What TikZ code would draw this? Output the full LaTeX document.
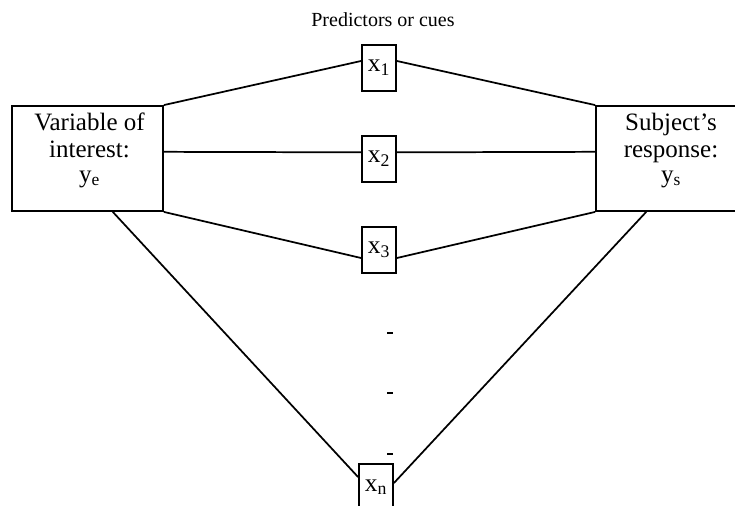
\documentclass[tikz,border=0pt]{standalone}
\usepackage{fontspec}
\setmainfont{Liberation Serif}
\begin{document}
\begin{tikzpicture}[x=0.75pt,y=-0.75pt,
  bigbox/.style={draw,line width=1.4pt,minimum width=151*0.75pt,minimum height=105*0.75pt,
    inner sep=0pt},
  boxtext/.style={anchor=base,inner sep=0pt,font=\fontsize{18.75}{19.2}\selectfont},
  cuebox/.style={draw,line width=1.4pt,minimum width=34*0.75pt,minimum height=46*0.75pt,
    inner sep=0pt,font=\fontsize{19}{20}\selectfont},
  link/.style={line width=1.3pt},
  dot/.style={line width=1.1pt}]
\useasboundingbox (0,0) rectangle (735,506);
\clip (0,0) rectangle (735,506);

% title
\node[font=\fontsize{15}{16}\selectfont,anchor=base] (title) at (383,27) {Predictors or cues};

% outer boxes
\node[bigbox] (L) at (87.5,158.5) {};
\node[bigbox] (R) at (671.5,158.5) {};
\node[boxtext] (L1) at (89.5,131) {Variable of};
\node[boxtext] (L2) at (89.5,157) {interest:};
\node[boxtext] (L3) at (89.5,182) {y\textsubscript{e}};
\node[boxtext] (R1) at (671,131) {Subject’s};
\node[boxtext] (R2) at (671,157) {response:};
\node[boxtext] (R3) at (671,182) {y\textsubscript{s}};

% cue boxes
\node[cuebox] (x1) at (379,68)  {x\textsubscript{1}};
\node[cuebox] (x2) at (379,159) {x\textsubscript{2}};
\node[cuebox] (x3) at (379,250) {x\textsubscript{3}};
\node[cuebox] (xn) at (376,487) {x\textsubscript{n}};

% connectors
\draw[link] (L.north east) -- ([yshift=5.25pt]x1.west);
\draw[link] ([yshift=5.25pt]x1.east) -- (R.north west);
\draw[link] ([yshift=5pt]L.east) -- ([yshift=5pt]x2.west);
\draw[link] ([yshift=5pt]x2.east) -- ([yshift=5pt]R.west);
\draw[link] (L.south east) -- ([yshift=-6pt]x3.west);
\draw[link] ([yshift=-6pt]x3.east) -- (R.south west);
\draw[link] ([xshift=19pt]L.south) -- ([yshift=7.5pt]xn.west);
\draw[link] ([yshift=3pt]xn.east) -- ([xshift=-19pt]R.south);

% ellipsis marks
\draw[dot] (387,333) -- (393,333);
\draw[dot] (387,393) -- (393,393);
\draw[dot] (387,454) -- (393,454);
\end{tikzpicture}
\end{document}
